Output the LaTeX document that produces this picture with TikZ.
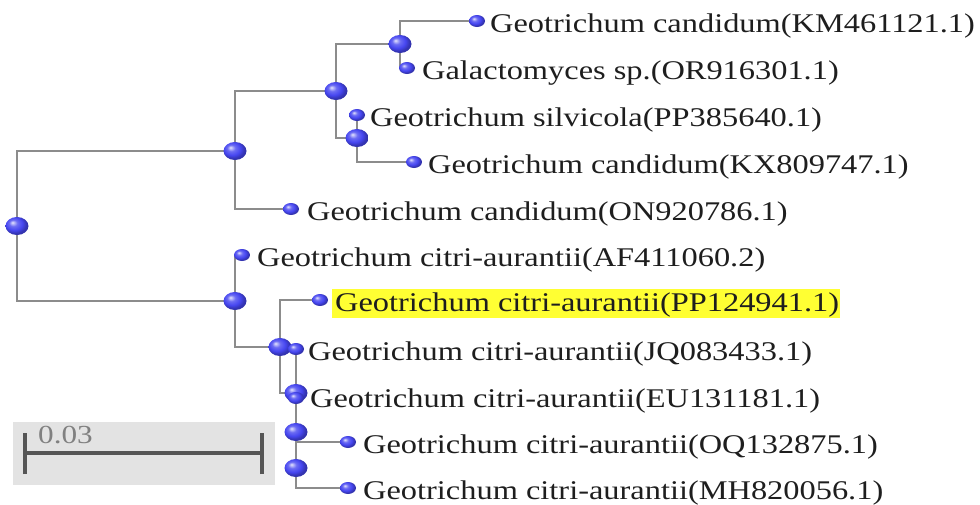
\documentclass[tikz,border=0pt]{standalone}
\usepackage{fontspec}
\setmainfont{Liberation Serif}[FakeStretch=1.2]
\usetikzlibrary{shapes.geometric,backgrounds}
\definecolor{ballblue}{RGB}{70,70,240}
\definecolor{branchgray}{RGB}{140,140,140}
\definecolor{txtc}{RGB}{30,30,30}
\definecolor{hl}{RGB}{255,255,51}
\definecolor{boxgray}{RGB}{227,227,227}
\definecolor{bargray}{RGB}{85,85,85}
\definecolor{sbtxt}{RGB}{128,128,128}
\pgfdeclareradialshading{myball}{\pgfpoint{-10bp}{10bp}}{%
  color(0bp)=(ballblue!15!white); color(9bp)=(ballblue!80!white);
  color(18bp)=(ballblue); color(25bp)=(ballblue!75!black); color(50bp)=(ballblue!50!black)}
\tikzset{
  inode/.style={ellipse, minimum width=23, minimum height=18, inner sep=0, shading=myball},
  leaf/.style={ellipse, minimum width=16, minimum height=12, inner sep=0, shading=myball},
  lab/.style={anchor=base west, inner sep=0, text=txtc, font=\fontsize{27}{30}\selectfont},
  branch/.style={draw=branchgray, line width=1.8pt},
}
\begin{document}
\begin{tikzpicture}[x=1pt,y=-1pt]
\useasboundingbox (0,0) rectangle (980,504);
% highlight
\fill[hl] (332,289) rectangle (840,318);
% internal nodes
\node[inode] (root) at (17,226) {};
\node[inode] (nA) at (235,151) {};
\node[inode] (nB) at (336,91) {};
\node[inode] (nC) at (400,44) {};
\node[inode] (nD) at (357,138) {};
\node[inode] (nE) at (235,301) {};
\node[inode] (nF) at (280,347) {};
\node[inode] (nG) at (296,393) {};
\node[inode] (nH) at (296,432) {};
\node[inode] (nI) at (296,468) {};
% leaves
\node[leaf] (lKM) at (477,21) {};
\node[leaf] (lGal) at (407,68) {};
\node[leaf] (lSil) at (357,115) {};
\node[leaf] (lKX) at (414,162) {};
\node[leaf] (lON) at (291,209) {};
\node[leaf] (lAF) at (242,255) {};
\node[leaf] (lPP) at (320,300) {};
\node[leaf] (lJQ) at (296,349) {};
\node[leaf] (lEU) at (296,398) {};
\node[leaf] (lOQ) at (348,442) {};
\node[leaf] (lMH) at (348,488) {};
% branches
\begin{scope}[on background layer]
\draw[branch] (root.center) |- (nA.center);
\draw[branch] (root.center) |- (nE.center);
\draw[branch] (nA.center) |- (nB.center);
\draw[branch] (nA.center) |- (lON.center);
\draw[branch] (nB.center) |- (nC.center);
\draw[branch] (nB.center) |- (nD.center);
\draw[branch] (nC.center) |- (lKM.center);
\draw[branch] (nC.center) |- (lGal.center);
\draw[branch] (nD.center) |- (lSil.center);
\draw[branch] (nD.center) |- (lKX.center);
\draw[branch] (nE.center) |- (lAF.center);
\draw[branch] (nE.center) |- (nF.center);
\draw[branch] (nF.center) |- (lPP.center);
\draw[branch] (nF.center) |- (nG.center);
\draw[branch] (nG.center) |- (lJQ.center);
\draw[branch] (nG.center) |- (lEU.center);
\draw[branch] (nG.center) |- (nH.center);
\draw[branch] (nH.center) |- (lOQ.center);
\draw[branch] (nH.center) |- (nI.center);
\draw[branch] (nI.center) |- (lMH.center);
\end{scope}
% labels
\node[lab] (tKM) at (490,32) {Geotrichum candidum(KM461121.1)};
\node[lab] (tGal) at (422,79) {Galactomyces sp.(OR916301.1)};
\node[lab] (tSil) at (370,126) {Geotrichum silvicola(PP385640.1)};
\node[lab] (tKX) at (428,173) {Geotrichum candidum(KX809747.1)};
\node[lab] (tON) at (307,220) {Geotrichum candidum(ON920786.1)};
\node[lab] (tAF) at (257,266) {Geotrichum citri-aurantii(AF411060.2)};
\node[lab] (tPP) at (335,311) {Geotrichum citri-aurantii(PP124941.1)};
\node[lab] (tJQ) at (308,360) {Geotrichum citri-aurantii(JQ083433.1)};
\node[lab] (tEU) at (310,407) {Geotrichum citri-aurantii(EU131181.1)};
\node[lab] (tOQ) at (363,453) {Geotrichum citri-aurantii(OQ132875.1)};
\node[lab] (tMH) at (363,499) {Geotrichum citri-aurantii(MH820056.1)};
% scale bar
\fill[boxgray] (13,422) rectangle (275,485);
\coordinate (sbL) at (25,453);
\coordinate (sbR) at (262,453);
\draw[bargray, line width=3.5pt] (sbL) -- (sbR);
\draw[bargray, line width=4pt] ([yshift=-21]sbL) -- ([yshift=20]sbL);
\draw[bargray, line width=4pt] ([yshift=-21]sbR) -- ([yshift=20]sbR);
\node[anchor=base west, inner sep=0, text=sbtxt, font=\fontsize{26}{28}\selectfont] (sbT) at (38,443) {0.03};
\end{tikzpicture}
\end{document}
